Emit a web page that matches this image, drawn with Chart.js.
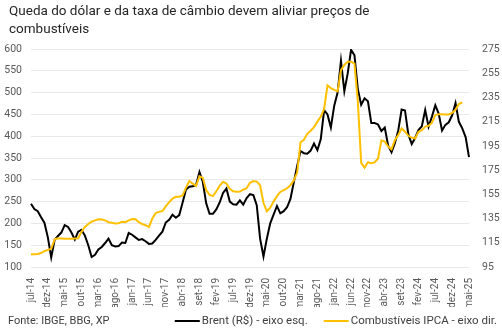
<!DOCTYPE html>
<html>
<head>
<meta charset="utf-8">
<script src="https://cdn.jsdelivr.net/npm/chart.js@4.4.1/dist/chart.umd.min.js"></script>
<style>
  html, body { margin: 0; padding: 0; background: #ffffff; }
  #wrap { width: 502px; height: 333px; position: relative; }
</style>
</head>
<body>
<div id="wrap"><canvas id="c" width="502" height="333"></canvas></div>
<script>
// ---- DATA ----
const titleLines = ["Queda do dólar e da taxa de câmbio devem aliviar preços de", "combustíveis"];
const sourceText = "Fonte: IBGE, BBG, XP";

const categories = [
  "jul-14","ago-14","set-14","out-14","nov-14","dez-14",
  "jan-15","fev-15","mar-15","abr-15","mai-15","jun-15","jul-15","ago-15","set-15","out-15","nov-15","dez-15",
  "jan-16","fev-16","mar-16","abr-16","mai-16","jun-16","jul-16","ago-16","set-16","out-16","nov-16","dez-16",
  "jan-17","fev-17","mar-17","abr-17","mai-17","jun-17","jul-17","ago-17","set-17","out-17","nov-17","dez-17",
  "jan-18","fev-18","mar-18","abr-18","mai-18","jun-18","jul-18","ago-18","set-18","out-18","nov-18","dez-18",
  "jan-19","fev-19","mar-19","abr-19","mai-19","jun-19","jul-19","ago-19","set-19","out-19","nov-19","dez-19",
  "jan-20","fev-20","mar-20","abr-20","mai-20","jun-20","jul-20","ago-20","set-20","out-20","nov-20","dez-20",
  "jan-21","fev-21","mar-21","abr-21","mai-21","jun-21","jul-21","ago-21","set-21","out-21","nov-21","dez-21",
  "jan-22","fev-22","mar-22","abr-22","mai-22","jun-22","jul-22","ago-22","set-22","out-22","nov-22","dez-22",
  "jan-23","fev-23","mar-23","abr-23","mai-23","jun-23","jul-23","ago-23","set-23","out-23","nov-23","dez-23",
  "jan-24","fev-24","mar-24","abr-24","mai-24","jun-24","jul-24","ago-24","set-24","out-24","nov-24","dez-24",
  "jan-25","fev-25","mar-25","abr-25","mai-25"
];

// Brent in R$ (left axis)
const brentLabel = "Brent (R$) - eixo esq.";
const brent = [
  245,233,228,214,201,168,122,162,171,179,
  196,192,179,163,181,185,172,150,123,128,
  140,146,155,165,150,147,148,156,155,178,
  174,168,162,164,159,153,154,162,172,181,
  202,208,220,213,219,248,278,284,285,288,
  318,295,246,222,222,232,248,270,280,250,
  244,243,253,243,258,267,265,242,165,124,
  165,200,220,240,223,228,237,256,294,332,
  366,361,360,367,383,368,393,460,450,420,
  470,500,573,503,544,598,586,508,472,487,
  480,430,430,427,412,420,378,363,384,413,
  461,459,404,382,396,414,423,460,422,445,
  471,452,413,426,432,448,476,433,418,398,352
];

// Combustíveis IPCA index (right axis)
const ipcaLabel = "Combustíveis IPCA - eixo dir.";
const ipca = [
  105.5,105.5,105.8,106.5,108.2,109,110,117.8,118.7,118.5,
  118.3,118.3,118.3,118.5,118.7,124,128,130.5,132.4,133.5,
  134.4,134.2,133.5,132,131.5,131,131.2,132.4,132,133.5,
  134.6,134.5,132,130.5,129.5,128,135,139.5,140.5,141.2,
  145,148.5,151.5,153,153,154,160.5,166,163.8,162,
  170,168.5,158.5,154.5,153.5,157.5,162,165.4,164,159.5,
  157.5,157.2,157.3,158.8,160,164.5,166,165.5,162.5,148,
  141,144,149,153.5,157,158.5,160,162.5,166.5,173,
  198,200,205,207.5,210.5,215,219,225.5,245,242.7,
  241.2,240,257.5,261.8,264.5,264.5,263,232,181,177,
  181.5,180.6,181.4,184.6,199.5,198.5,194.5,192.2,199.8,204,
  209.4,206.7,203.3,201.8,201.1,206.6,208,210.9,211.6,214.1,
  220.4,221.2,221.2,221,221,222.3,224.8,229.6,231
];

const leftTicks = { min: 100, max: 600, step: 50 };
const rightTicks = { min: 95, max: 275, step: 20 };
const labelEvery = 5;

// ---- STYLE ----
const FONT = "Roboto";
const TICK_COLOR = "#595959";
const TEXT_COLOR = "#262626";
const BLACK = "#000000";
const GOLD = "#FFC000";

const decorPlugin = {
  id: "decor",
  afterDraw(chart) {
    const ctx = chart.ctx;
    ctx.save();
    // title
    ctx.fillStyle = TEXT_COLOR;
    ctx.font = "13.5px " + FONT;
    ctx.textBaseline = "middle";
    ctx.textAlign = "left";
    ctx.fillText(titleLines[0], 9, 12);
    ctx.fillText(titleLines[1], 9, 30);
    // source
    ctx.font = "11px " + FONT;
    ctx.fillStyle = "#404040";
    ctx.fillText(sourceText, 8, 321);
    // legend (right aligned)
    ctx.font = "11.5px " + FONT;
    const items = chart.data.datasets.map(d => ({ text: d.label, color: d.borderColor }));
    const lineLen = 25, gapText = 2, gapItems = 16;
    let widths = items.map(it => lineLen + gapText + ctx.measureText(it.text).width);
    let total = widths.reduce((a, b) => a + b, 0) + gapItems * (items.length - 1);
    let x = 497 - total;
    const y = 321;
    items.forEach((it, i) => {
      ctx.strokeStyle = it.color;
      ctx.lineWidth = 2;
      ctx.beginPath();
      ctx.moveTo(x, y);
      ctx.lineTo(x + lineLen, y);
      ctx.stroke();
      ctx.fillStyle = "#404040";
      ctx.fillText(it.text, x + lineLen + gapText, y);
      x += widths[i] + gapItems;
    });
    ctx.restore();
  }
};

new Chart(document.getElementById("c"), {
  type: "line",
  data: {
    labels: categories,
    datasets: [
      { label: brentLabel, data: brent, yAxisID: "y", borderColor: BLACK, backgroundColor: BLACK,
        borderWidth: 2, pointRadius: 0, tension: 0, order: 1 },
      { label: ipcaLabel, data: ipca, yAxisID: "y1", borderColor: GOLD, backgroundColor: GOLD,
        borderWidth: 2, pointRadius: 0, tension: 0, order: 0 }
    ]
  },
  options: {
    responsive: false,
    animation: false,
    layout: { padding: { top: 49, bottom: 26, left: 0, right: 0 } },
    plugins: { legend: { display: false }, title: { display: false }, tooltip: { enabled: false } },
    scales: {
      x: {
        type: "category",
        offset: false,
        grid: { display: false },
        border: { display: false },
        ticks: {
          autoSkip: false, maxRotation: 90, minRotation: 90, padding: 3,
          color: TICK_COLOR, font: { family: FONT, size: 10 },
          callback: function(v, i) { return i % labelEvery === 0 ? categories[i] : null; }
        },
        afterFit(scale) { scale.height = 40; }
      },
      y: {
        position: "left",
        min: leftTicks.min, max: leftTicks.max,
        grid: { color: "#e9e9e9", lineWidth: 1, drawTicks: false },
        border: { display: false },
        ticks: { stepSize: leftTicks.step, padding: 9, color: TICK_COLOR, font: { family: FONT, size: 10.5 } },
        afterFit(scale) { scale.width = 31; }
      },
      y1: {
        position: "right",
        min: rightTicks.min, max: rightTicks.max,
        grid: { display: false, drawOnChartArea: false, drawTicks: false },
        border: { display: false },
        ticks: { stepSize: rightTicks.step, padding: 13, color: TICK_COLOR, font: { family: FONT, size: 10.5 } },
        afterFit(scale) { scale.width = 33; }
      }
    }
  },
  plugins: [decorPlugin]
});
</script>
</body>
</html>
